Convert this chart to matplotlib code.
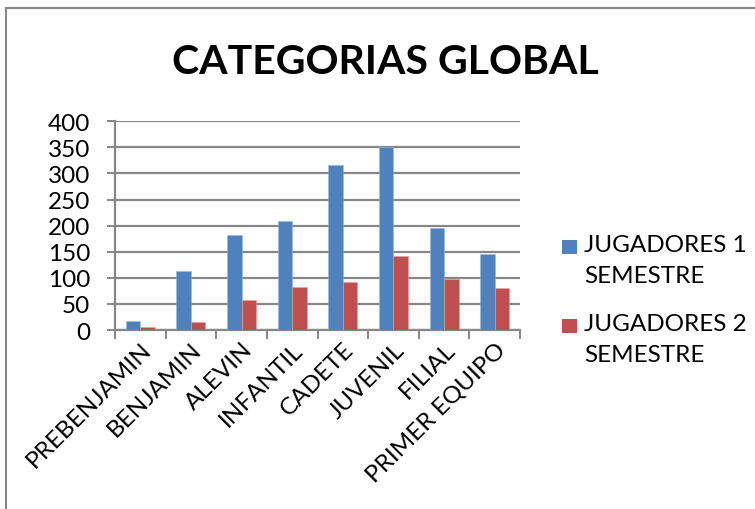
import matplotlib
matplotlib.use("Agg")
import matplotlib.pyplot as plt
from matplotlib.patches import Rectangle
from matplotlib.lines import Line2D
import numpy as np

categories = ["PREBENJAMIN", "BENJAMIN", "ALEVIN", "INFANTIL", "CADETE",
              "JUVENIL", "FILIAL", "PRIMER EQUIPO"]
sem1 = [18, 114, 183, 209, 316, 351, 195, 146]
sem2 = [6, 15, 58, 82, 92, 141, 97, 81]
series_names = ["JUGADORES 1\nSEMESTRE", "JUGADORES 2\nSEMESTRE"]
yticks = [0, 50, 100, 150, 200, 250, 300, 350, 400]

BLUE = "#4F81BD"
RED = "#C0504D"
GRID = "#878787"
FONT = "Lato"

W, H = 755, 510
fig = plt.figure(figsize=(W / 100, H / 100), dpi=100)
fig.patch.set_facecolor("white")

def fx(px):
    return px / W

def fy(py):
    return 1 - py / H

ax = fig.add_axes([fx(115), fy(331), fx(520) - fx(115), fy(122.3) - fy(331)])

x = np.arange(len(categories)) + 0.5
bw = 0.287
ax.bar(x - bw / 2, sem1, width=bw, color=BLUE, edgecolor="#9DB9DE", linewidth=0.4, zorder=3)
ax.bar(x + bw / 2, sem2, width=bw, color=RED, edgecolor="#E0A09E", linewidth=0.4, zorder=3)

ax.set_xlim(0, len(categories))
ax.set_ylim(0, 400)
ax.set_yticks(yticks)
ax.set_yticklabels([str(v) for v in yticks], fontfamily=FONT, fontsize=17.5)
ax.yaxis.grid(True, color=GRID, linewidth=1.6, zorder=0)
ax.set_axisbelow(True)

ax.set_xticks(np.arange(len(categories) + 1))
ax.set_xticklabels([])
ax.set_xticks(x, minor=True)
ax.set_xticklabels(categories, minor=True, rotation=45, ha="right", va="top",
                   rotation_mode="anchor", fontfamily=FONT, fontsize=17.5)
ax.tick_params(axis="x", which="minor", length=0, pad=6)
ax.tick_params(axis="x", which="major", length=6.5, width=1.4, color=GRID, direction="out")
ax.tick_params(axis="y", length=6, width=1.4, color=GRID, direction="out", pad=12)

for s in ["top", "right"]:
    ax.spines[s].set_visible(False)
for s in ["left", "bottom"]:
    ax.spines[s].set_color(GRID)
    ax.spines[s].set_linewidth(1.6)

fig.text(fx(385), fy(62), "CATEGORIAS GLOBAL", ha="center", va="center",
         fontfamily=FONT, fontweight="bold", fontsize=29.5)

# chart border
fig.add_artist(Line2D([fx(5.5), fx(5.5)], [0, fy(9)], color=GRID, linewidth=1.5))
fig.add_artist(Line2D([fx(5.5), 1], [fy(9), fy(9)], color=GRID, linewidth=1.5))

# legend
for (top, col, name) in [(240.7, BLUE, series_names[0]), (320, RED, series_names[1])]:
    fig.add_artist(Rectangle((fx(562), fy(top + 14)), fx(14.5), fy(top) - fy(top + 14),
                             transform=fig.transFigure, facecolor=col, edgecolor="none"))
    fig.text(fx(584), fy(top - 6), name, ha="left", va="top", fontfamily=FONT,
             fontsize=17.5, linespacing=1.6)

fig.savefig("out.png", dpi=100)
